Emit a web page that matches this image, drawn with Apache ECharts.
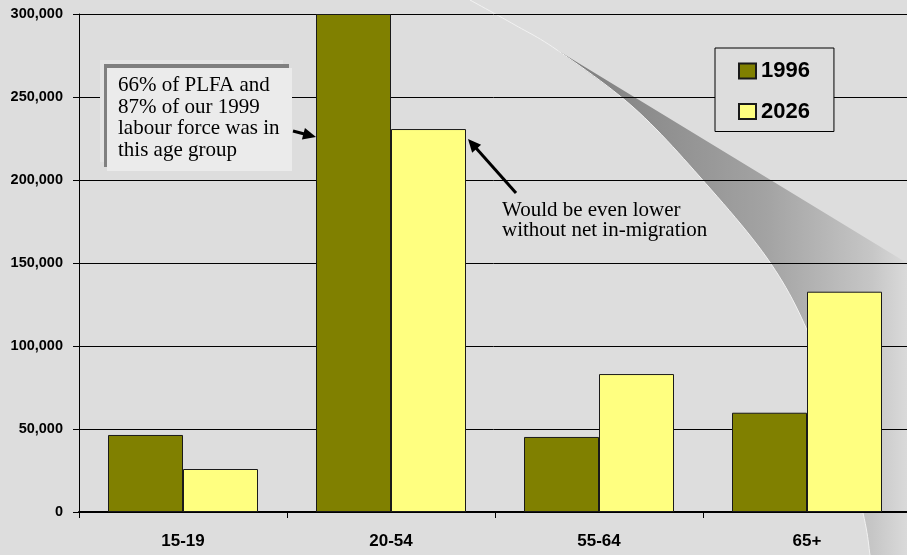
<!DOCTYPE html>
<html><head><meta charset="utf-8">
<script src="https://cdn.jsdelivr.net/npm/echarts@6/dist/echarts.min.js"></script>
<style>html,body{margin:0;padding:0;background:#dddddd}#c{width:907px;height:555px}</style>
</head><body><div id="c"></div>
<script>
// ---- data ----
const categories = ['15-19', '20-54', '55-64', '65+'];
const seriesNames = ['1996', '2026'];
const values1996 = [46400, 300000, 45200, 59800];
const values2026 = [25900, 230700, 83100, 132700];
const yMin = 0, yMax = 300000, yStep = 50000;
const note1 = '66% of PLFA and\n87% of our 1999\nlabour force was in\nthis age group';
const note2 = 'Would be even lower\nwithout net in-migration';

// ---- decoration helpers ----
function catmull(pts, n) {
  const out = [];
  for (let i = 0; i < pts.length - 1; i++) {
    const p0 = pts[Math.max(i - 1, 0)], p1 = pts[i], p2 = pts[i + 1], p3 = pts[Math.min(i + 2, pts.length - 1)];
    for (let k = 0; k < n; k++) {
      const t = k / n, t2 = t * t, t3 = t2 * t;
      const f = (a, b, c, d) => 0.5 * ((2 * b) + (-a + c) * t + (2 * a - 5 * b + 4 * c - d) * t2 + (-a + 3 * b - 3 * c + d) * t3);
      out.push([f(p0[0], p1[0], p2[0], p3[0]), f(p0[1], p1[1], p2[1], p3[1])]);
    }
  }
  out.push(pts[pts.length - 1]);
  return out;
}
const swooshTop = [[470, 0], [515, 25]];
const swooshEdge = [[557, 50], [633, 107], [700, 177], [767, 258], [807, 330], [838, 420], [863, 513], [870, 555]];
const curveAll = catmull(swooshTop.concat(swooshEdge), 12);
const curveBand = catmull(swooshEdge, 12);
const bandPoly = curveBand.concat([[907, 555], [907, 263]]);

function arrow(x1, y1, x2, y2) {
  const dx = x2 - x1, dy = y2 - y1, L = Math.hypot(dx, dy), ux = dx / L, uy = dy / L;
  const hl = 13, hw = 6;
  const bx = x2 - ux * hl, by = y2 - uy * hl;
  return [
    { type: 'line', z: 20, shape: { x1: x1, y1: y1, x2: bx + ux * 2, y2: by + uy * 2 }, style: { stroke: '#000', lineWidth: 3 } },
    { type: 'polygon', z: 20, shape: { points: [[x2, y2], [bx - uy * hw, by + ux * hw], [bx + uy * hw, by - ux * hw]] }, style: { fill: '#000' } }
  ];
}

const chart = echarts.init(document.getElementById('c'));
const axisFont = "'Liberation Sans', Arial, sans-serif";
chart.setOption({
  backgroundColor: '#dddddd',
  animation: false,
  grid: { left: 79, width: 832, top: 14, height: 498, outerBoundsMode: 'none', containLabel: false },
  legend: {
    data: seriesNames, orient: 'vertical', left: 715, top: 48,
    backgroundColor: '#dddddd', borderColor: '#000', borderWidth: 1,
    padding: [12, 24, 9, 23], itemWidth: 17, itemHeight: 15, itemGap: 18.5,
    icon: 'rect',
    textStyle: { fontFamily: axisFont, fontWeight: 'bold', fontSize: 22, lineHeight: 22, color: '#000' }
  },
  xAxis: {
    type: 'category', data: categories, boundaryGap: true,
    axisLine: { show: true, lineStyle: { color: '#000', width: 2 } },
    axisTick: { show: true, length: 6, lineStyle: { color: '#000', width: 1 } },
    axisLabel: { margin: 21, fontFamily: axisFont, fontWeight: 'bold', fontSize: 17, color: '#000' }
  },
  yAxis: {
    type: 'value', min: yMin, max: yMax, interval: yStep,
    axisLine: { show: true, lineStyle: { color: '#000', width: 1 } },
    axisTick: { show: true, length: 6, lineStyle: { color: '#000' } },
    splitLine: { show: true, lineStyle: { color: '#000', width: 1 } },
    axisLabel: {
      margin: 16, fontFamily: axisFont, fontWeight: 'bold', fontSize: 14.5, color: '#000',
      formatter: v => v.toLocaleString('en-US')
    }
  },
  series: [
    { name: seriesNames[0], type: 'bar', data: values1996, barWidth: 75, barGap: '0%',
      itemStyle: { color: '#808000', borderColor: '#1a1a1a', borderWidth: 1 } },
    { name: seriesNames[1], type: 'bar', data: values2026, barWidth: 75, barGap: '0%',
      itemStyle: { color: '#ffff80', borderColor: '#1a1a1a', borderWidth: 1 } }
  ],
  graphic: [
    { type: 'polygon', z: -1, shape: { points: bandPoly },
      style: { fill: new echarts.graphic.LinearGradient(557, 0, 907, 0, [
        { offset: 0, color: '#7c7c7c' }, { offset: 0.6, color: '#a3a3a3' },
        { offset: 0.9, color: '#c6c6c6' }, { offset: 1, color: '#dadada' }], true) } },
    { type: 'polyline', z: -1, shape: { points: curveAll }, style: { stroke: '#f2f2f2', lineWidth: 1, fill: null } },
    // note 1 box
    { type: 'rect', z: 10, shape: { x: 100, y: 60, width: 183, height: 102 }, style: { fill: '#e4e4e4' } },
    { type: 'rect', z: 10, shape: { x: 104, y: 64, width: 185, height: 103 }, style: { fill: '#808080' } },
    { type: 'rect', z: 10, shape: { x: 107, y: 68, width: 185, height: 103 }, style: { fill: '#ebebeb' } },
    { type: 'text', z: 11, x: 118, y: 75, style: { text: note1, font: "21px 'Liberation Serif', 'Times New Roman', serif", lineHeight: 21.5, fill: '#000' } },
    { type: 'text', z: 11, x: 502, y: 200, style: { text: note2, font: "21px 'Liberation Serif', 'Times New Roman', serif", lineHeight: 20.5, fill: '#000' } }
  ].concat(arrow(293, 131, 316, 137)).concat(arrow(516, 193, 468, 139))
});
</script></body></html>
